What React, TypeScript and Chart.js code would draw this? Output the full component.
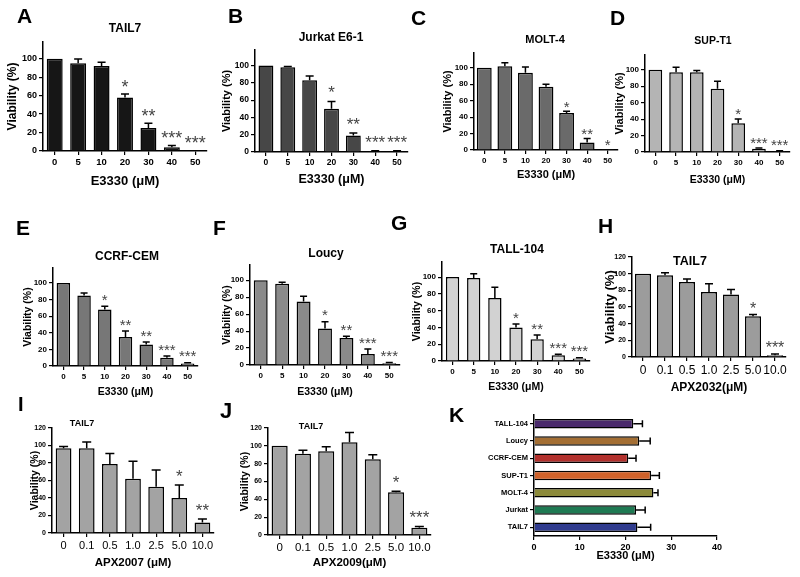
import React, { useEffect, useRef } from 'react';
import { Chart, registerables } from 'chart.js';
Chart.register(...registerables);

// ---------- data ----------
const doseE3330 = ['0', '5', '10', '20', '30', '40', '50'];
const doseAPX = ['0', '0.1', '0.5', '1.0', '2.5', '5.0', '10.0'];
const yTicks100 = [0, 20, 40, 60, 80, 100];
const yTicks120 = [0, 20, 40, 60, 80, 100, 120];
const kTicks = [0, 10, 20, 30, 40];
const cellLinesK = ['TALL-104', 'Loucy', 'CCRF-CEM', 'SUP-T1', 'MOLT-4', 'Jurkat', 'TAIL7'];

const viabilityA = [100, 95, 92, 58, 25, 4, 0.5];
const errorA = [0, 4.5, 4, 3.6, 5, 2, 0];
const starsA = ['', '', '', '*', '**', '***', '***'];

const viabilityB = [100, 98, 83, 50, 19, 1, 1];
const errorB = [0, 1, 5, 8.5, 3, 0.5, 0.5];
const starsB = ['', '', '', '*', '**', '***', '***'];

const viabilityC = [100, 102, 94, 77, 45, 9, 1];
const errorC = [0, 4, 7, 3, 2, 5, 0];
const starsC = ['', '', '', '', '*', '**', '*'];

const viabilityD = [100, 97, 97, 77, 35, 4, 1];
const errorD = [0, 6, 2, 9, 5, 1, 0.5];
const starsD = ['', '', '', '', '*', '***', '***'];

const viabilityE = [100, 85, 68, 35, 26, 10, 3];
const errorE = [0, 3, 4, 7, 3, 2, 1];
const starsE = ['', '', '*', '**', '**', '***', '***'];

const viabilityF = [100, 96, 75, 43, 32, 13, 2];
const errorF = [0, 1.5, 6, 8, 2, 6, 1];
const starsF = ['', '', '', '*', '**', '***', '***'];

const viabilityG = [100, 99, 75, 40, 26, 7, 3];
const errorG = [0, 5, 13, 4, 5, 1, 1];
const starsG = ['', '', '', '*', '**', '***', '***'];

const viabilityH = [100, 98, 90, 78, 75, 49, 2];
const errorH = [0, 3, 3.5, 10, 6, 2, 1.5];
const starsH = ['', '', '', '', '', '*', '***'];

const viabilityI = [97, 97, 79, 62, 53, 40, 12];
const errorI = [2, 7, 12, 20, 19, 15, 4];
const starsI = ['', '', '', '', '', '*', '**'];

const viabilityJ = [100, 91, 94, 104, 85, 48, 8];
const errorJ = [0, 4, 5, 11, 5, 1, 1.5];
const starsJ = ['', '', '', '', '', '*', '***'];

const ic50K = [21.7, 23, 20.6, 25.6, 26.1, 22.3, 22.6];
const ic50ErrK = [2, 2.4, 1.7, 1.8, 1, 2, 2.9];
const colorsK = ['#4a2a6c', '#a46f34', '#b2302c', '#d0622b', '#8c8a3a', '#1f7a53', '#2f3b8e'];

// ---------- styles ----------
const SANS = '"Liberation Sans", Arial, sans-serif';

type Spec = any;

const panels: Spec[] = [
  { key: 'A', cats: doseE3330, vals: viabilityA, errs: errorA, stars: starsA, color: '#161616',
    box: { left: 43, top: 42, right: 207, bottom: 151 }, yMax: 118, yTicks: yTicks100,
    yTitle: 'Viability (%)', yTitleX: 13, yTitleSize: 12, xTitle: 'E3330 (\u03bcM)', xTitleY: 181, xTitleSize: 13,
    title: 'TAIL7', titleX: 125, titleY: 29, titleSize: 12,
    yTick: { family: SANS, size: 9, weight: 'bold' }, xTick: { family: SANS, size: 9.5, weight: 'bold' },
    barPct: 0.68, cap: 8, starSize: 18, starGap: 12 },
  { key: 'B', cats: doseE3330, vals: viabilityB, errs: errorB, stars: starsB, color: '#474747',
    box: { left: 255, top: 50, right: 408, bottom: 152 }, yMax: 118, yTicks: yTicks100,
    yTitle: 'Viability (%)', yTitleX: 227, yTitleSize: 11, xTitle: 'E3330 (\u03bcM)', xTitleY: 180, xTitleSize: 12.5,
    title: 'Jurkat E6-1', titleX: 331, titleY: 37.5, titleSize: 12,
    yTick: { family: SANS, size: 8.5, weight: 'bold' }, xTick: { family: SANS, size: 8.5, weight: 'bold' },
    barPct: 0.68, cap: 8, starSize: 17, starGap: 13 },
  { key: 'C', cats: doseE3330, vals: viabilityC, errs: errorC, stars: starsC, color: '#6a6a6a',
    box: { left: 474, top: 53, right: 618, bottom: 150 }, yMax: 118, yTicks: yTicks100,
    yTitle: 'Viability (%)', yTitleX: 448, yTitleSize: 11, xTitle: 'E3330 (\u03bcM)', xTitleY: 175, xTitleSize: 11,
    title: 'MOLT-4', titleX: 545, titleY: 40, titleSize: 11,
    yTick: { family: SANS, size: 8, weight: 'bold' }, xTick: { family: SANS, size: 8, weight: 'bold' },
    barPct: 0.72, cap: 7, starSize: 15, starGap: 8 },
  { key: 'D', cats: doseE3330, vals: viabilityD, errs: errorD, stars: starsD, color: '#b4b4b4',
    box: { left: 645, top: 55, right: 790, bottom: 152 }, yMax: 118, yTicks: yTicks100,
    yTitle: 'Viability (%)', yTitleX: 620, yTitleSize: 11, xTitle: 'E3330 (\u03bcM)', xTitleY: 180, xTitleSize: 10.5,
    title: 'SUP-T1', titleX: 713, titleY: 41, titleSize: 10.5,
    yTick: { family: SANS, size: 8, weight: 'bold' }, xTick: { family: SANS, size: 8, weight: 'bold' },
    barPct: 0.66, cap: 7, starSize: 15, starGap: 9 },
  { key: 'E', cats: doseE3330, vals: viabilityE, errs: errorE, stars: starsE, color: '#777777',
    box: { left: 53, top: 268, right: 198, bottom: 366 }, yMax: 118, yTicks: yTicks100,
    yTitle: 'Viability (%)', yTitleX: 28, yTitleSize: 10.5, xTitle: 'E3330 (\u03bcM)', xTitleY: 392, xTitleSize: 10.5,
    title: 'CCRF-CEM', titleX: 127, titleY: 257, titleSize: 12,
    yTick: { family: SANS, size: 8, weight: 'bold' }, xTick: { family: SANS, size: 8, weight: 'bold' },
    barPct: 0.65, cap: 7, starSize: 15, starGap: 10 },
  { key: 'F', cats: doseE3330, vals: viabilityF, errs: errorF, stars: starsF, color: '#8a8a8a',
    box: { left: 250, top: 265, right: 400, bottom: 365 }, yMax: 118, yTicks: yTicks100,
    yTitle: 'Viability (%)', yTitleX: 227, yTitleSize: 10.5, xTitle: 'E3330 (\u03bcM)', xTitleY: 392, xTitleSize: 10.5,
    title: 'Loucy', titleX: 326, titleY: 254, titleSize: 12,
    yTick: { family: SANS, size: 8, weight: 'bold' }, xTick: { family: SANS, size: 8, weight: 'bold' },
    barPct: 0.65, cap: 7, starSize: 15, starGap: 10 },
  { key: 'G', cats: doseE3330, vals: viabilityG, errs: errorG, stars: starsG, color: '#d2d2d2',
    box: { left: 442, top: 262, right: 590, bottom: 361 }, yMax: 118, yTicks: yTicks100,
    yTitle: 'Viability (%)', yTitleX: 417, yTitleSize: 10.5, xTitle: 'E3330 (\u03bcM)', xTitleY: 387, xTitleSize: 10.5,
    title: 'TALL-104', titleX: 517, titleY: 250, titleSize: 12,
    yTick: { family: SANS, size: 8, weight: 'bold' }, xTick: { family: SANS, size: 8, weight: 'bold' },
    barPct: 0.63, cap: 7, starSize: 15, starGap: 10 },
  { key: 'H', cats: doseAPX, vals: viabilityH, errs: errorH, stars: starsH, color: '#9c9c9c',
    box: { left: 632, top: 257, right: 786, bottom: 357 }, yMax: 120, yTicks: yTicks120,
    yTitle: 'Viability (%)', yTitleX: 610, yTitleSize: 13, xTitle: 'APX2032(\u03bcM)', xTitleY: 388, xTitleSize: 12,
    title: 'TAIL7', titleX: 690, titleY: 262, titleSize: 12.5,
    yTick: { family: SANS, size: 7, weight: 'bold' }, xTick: { family: SANS, size: 12, weight: 'normal' },
    barPct: 0.73, cap: 8, starSize: 16, starGap: 10 },
  { key: 'I', cats: doseAPX, vals: viabilityI, errs: errorI, stars: starsI, color: '#a3a3a3',
    box: { left: 52, top: 428, right: 214, bottom: 533 }, yMax: 120, yTicks: yTicks120,
    yTitle: 'Viability (%)', yTitleX: 35, yTitleSize: 10.5, xTitle: 'APX2007 (\u03bcM)', xTitleY: 563, xTitleSize: 11.5,
    title: 'TAIL7', titleX: 82, titleY: 423.5, titleSize: 9,
    yTick: { family: SANS, size: 7, weight: 'bold' }, xTick: { family: SANS, size: 11, weight: 'normal' },
    barPct: 0.68, cap: 9, starSize: 17, starGap: 13 },
  { key: 'J', cats: doseAPX, vals: viabilityJ, errs: errorJ, stars: starsJ, color: '#a3a3a3',
    box: { left: 268, top: 428, right: 431, bottom: 535 }, yMax: 120, yTicks: yTicks120,
    yTitle: 'Viability (%)', yTitleX: 245, yTitleSize: 10.5, xTitle: 'APX2009(\u03bcM)', xTitleY: 563, xTitleSize: 11.5,
    title: 'TAIL7', titleX: 311, titleY: 426.5, titleSize: 9,
    yTick: { family: SANS, size: 7, weight: 'bold' }, xTick: { family: SANS, size: 11.5, weight: 'normal' },
    barPct: 0.69, cap: 9, starSize: 17, starGap: 13 },
  { key: 'K', horizontal: true, cats: cellLinesK, vals: ic50K, errs: ic50ErrK, colors: colorsK,
    box: { left: 534, top: 415, right: 717, bottom: 536 }, xMax: 40, xTicks: kTicks,
    xTitle: 'E3330 (\u03bcM)', xTitleY: 556, xTitleSize: 11,
    yTick: { family: SANS, size: 7.5, weight: 'bold' }, xTick: { family: SANS, size: 9, weight: 'bold' },
    barPct: 0.55, cap: 7 },
];

const letters = [
  { t: 'A', x: 18, y: 8, s: 21 }, { t: 'B', x: 229, y: 8, s: 21 }, { t: 'C', x: 412, y: 10, s: 21 },
  { t: 'D', x: 611, y: 10, s: 21 }, { t: 'E', x: 17, y: 220, s: 21 }, { t: 'F', x: 214, y: 220, s: 21 },
  { t: 'G', x: 392, y: 215, s: 21 }, { t: 'H', x: 599, y: 218, s: 21 }, { t: 'I', x: 19, y: 397, s: 20 },
  { t: 'J', x: 221, y: 403, s: 22 }, { t: 'K', x: 450, y: 407, s: 21 },
];

function build(p: Spec) {
  const lhX = p.xTitleSize * 1.2;
  let canvasLeft: number, padL: number;
  if (p.horizontal) {
    canvasLeft = p.box.left - 64;
    padL = 2;
  } else {
    const lhY = p.yTitleSize * 1.2;
    canvasLeft = Math.floor(p.yTitleX - lhY / 2 - 2);
    padL = p.yTitleX - lhY / 2 - canvasLeft;
  }
  const topRef = p.title ? Math.min(p.box.top, p.titleY - p.titleSize) : p.box.top;
  const canvasTop = Math.floor(topRef - 8);
  const padT = p.box.top - canvasTop;
  const canvasRight = Math.ceil(p.box.right + 16);
  const padR = canvasRight - p.box.right;
  const H = Math.ceil(p.xTitleY - canvasTop + lhX / 2 + 2);
  const padB = H - (p.xTitleY - canvasTop) - lhX / 2;
  const W = canvasRight - canvasLeft;
  const sideW = p.box.left - canvasLeft - padL;
  const bottomH = H - padB - (p.box.bottom - canvasTop);

  const grid = { display: true, drawOnChartArea: false, drawTicks: true, tickLength: 4, color: '#000', lineWidth: 1.2, offset: false };
  const border = { display: true, color: '#000', width: 1.5 };

  const valueTicks = p.horizontal ? p.xTicks : p.yTicks;
  const valueMax = p.horizontal ? p.xMax : p.yMax;

  const catScale: any = {
    type: 'category', offset: true, grid, border,
    ticks: { font: p.horizontal ? p.yTick : p.xTick, color: '#000', padding: 2, autoSkip: false, maxRotation: 0, minRotation: 0 },
  };
  const valScale: any = {
    type: 'linear', min: 0, max: valueMax, grid, border,
    ticks: { font: p.horizontal ? p.xTick : p.yTick, color: '#000', padding: 2 },
    afterBuildTicks: (s: any) => { s.ticks = valueTicks.map((v: number) => ({ value: v })); },
  };
  const xTitle = { display: true, text: p.xTitle, color: '#000', padding: 0, font: { family: SANS, size: p.xTitleSize, weight: 'bold' } };
  let scales: any;
  if (p.horizontal) {
    scales = {
      x: { ...valScale, position: 'bottom', title: xTitle, afterFit: (s: any) => { s.height = bottomH; } },
      y: { ...catScale, position: 'left', afterFit: (s: any) => { s.width = sideW; } },
    };
  } else {
    scales = {
      x: { ...catScale, position: 'bottom', title: xTitle, afterFit: (s: any) => { s.height = bottomH; } },
      y: { ...valScale, position: 'left', afterFit: (s: any) => { s.width = sideW; },
        title: { display: true, text: p.yTitle, color: '#000', padding: 0, font: { family: SANS, size: p.yTitleSize, weight: 'bold' } } },
    };
  }

  const deco = {
    id: 'deco' + p.key,
    afterDatasetsDraw(chart: any) {
      const ctx = chart.ctx;
      const meta = chart.getDatasetMeta(0);
      const vs = p.horizontal ? chart.scales.x : chart.scales.y;
      ctx.save();
      ctx.strokeStyle = '#000';
      ctx.lineWidth = 1.5;
      meta.data.forEach((el: any, i: number) => {
        const v = p.vals[i];
        const e = p.errs[i];
        if (p.horizontal) {
          const x0 = vs.getPixelForValue(v);
          const x1 = vs.getPixelForValue(v + e);
          ctx.beginPath();
          ctx.moveTo(x0, el.y); ctx.lineTo(x1, el.y);
          ctx.moveTo(x1, el.y - p.cap / 2); ctx.lineTo(x1, el.y + p.cap / 2);
          ctx.stroke();
        } else {
          const y0 = vs.getPixelForValue(v);
          const y1 = vs.getPixelForValue(v + e);
          if (e > 0) {
            ctx.beginPath();
            ctx.moveTo(el.x, y0); ctx.lineTo(el.x, y1);
            ctx.moveTo(el.x - p.cap / 2, y1); ctx.lineTo(el.x + p.cap / 2, y1);
            ctx.stroke();
          }
          const st = p.stars[i];
          if (st) {
            ctx.font = `normal ${p.starSize}px ${SANS}`;
            ctx.fillStyle = '#444';
            ctx.textAlign = 'center';
            ctx.textBaseline = 'alphabetic';
            ctx.fillText(st, el.x, y1 - p.starGap + p.starSize * 0.58);
          }
        }
      });
      ctx.restore();
    },
    afterDraw(chart: any) {
      if (!p.title) return;
      const ctx = chart.ctx;
      ctx.save();
      ctx.font = `bold ${p.titleSize}px ${SANS}`;
      ctx.fillStyle = '#000';
      ctx.textAlign = 'center';
      ctx.textBaseline = 'middle';
      ctx.fillText(p.title, p.titleX - canvasLeft, p.titleY - canvasTop);
      ctx.restore();
    },
  };

  const config: any = {
    type: 'bar',
    data: {
      labels: p.cats,
      datasets: [{
        data: p.vals,
        backgroundColor: p.colors || p.color,
        borderColor: '#000',
        borderWidth: 1.5,
        barPercentage: p.barPct,
        categoryPercentage: 1,
      }],
    },
    options: {
      indexAxis: p.horizontal ? 'y' : 'x',
      responsive: false,
      maintainAspectRatio: false,
      animation: false,
      devicePixelRatio: 1,
      layout: { padding: { left: padL, top: padT, right: padR, bottom: padB } },
      plugins: { legend: { display: false }, tooltip: { enabled: false }, title: { display: false } },
      scales,
    },
    plugins: [deco],
  };
  return { config, left: canvasLeft, top: canvasTop, W, H };
}

function PanelChart({ spec }: { spec: Spec }) {
  const ref = useRef<HTMLCanvasElement>(null);
  const geo = build(spec);
  useEffect(() => {
    const b = build(spec);
    const chart = new Chart(ref.current as HTMLCanvasElement, b.config);
    return () => chart.destroy();
  }, [spec]);
  return (
    <canvas
      ref={ref}
      width={geo.W}
      height={geo.H}
      style={{ position: 'absolute', left: geo.left, top: geo.top, width: geo.W, height: geo.H }}
    />
  );
}

export default function App() {
  return (
    <div style={{ position: 'absolute', left: 0, top: 0, width: 800, height: 577, background: '#fff', overflow: 'hidden' }}>
      {panels.map((p) => <PanelChart key={p.key} spec={p} />)}
      {letters.map((l) => (
        <div
          key={l.t}
          style={{
            position: 'absolute', left: l.x - 1, top: l.y - 0.13 * l.s,
            font: `bold ${l.s}px ${SANS}`, lineHeight: 1, color: '#000',
          }}
        >
          {l.t}
        </div>
      ))}
    </div>
  );
}
